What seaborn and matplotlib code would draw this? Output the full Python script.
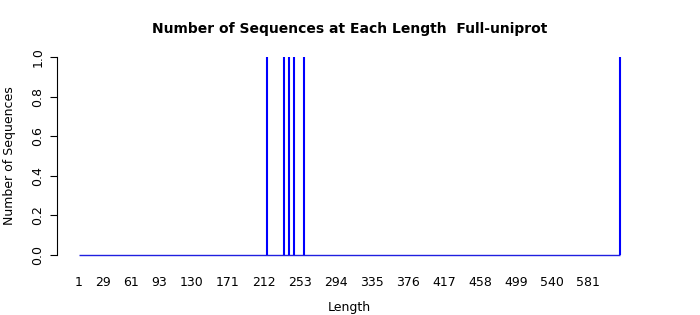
import matplotlib
matplotlib.use("Agg")
import matplotlib.pyplot as plt
import seaborn as sns
import numpy as np

# Data
spike_lengths = [216, 235, 241, 246, 258, 618]
spike_counts = [1, 1, 1, 1, 1, 1]
min_length = 1
max_length = 618
xtick_labels = [1, 29, 61, 93, 130, 171, 212, 253, 294, 335, 376, 417, 458, 499, 540, 581]
ytick_values = [0.0, 0.2, 0.4, 0.6, 0.8, 1.0]

sns.set_style("white")
plt.rcParams['font.family'] = ['DejaVu Sans']
plt.rcParams['text.color'] = 'black'
plt.rcParams['axes.labelcolor'] = 'black'
plt.rcParams['xtick.color'] = 'black'
plt.rcParams['ytick.color'] = 'black'

fig = plt.figure(figsize=(7, 3.15), dpi=100)
ax = fig.add_axes([57/700, 52/315, (642-57)/700, (266-52)/315])

ax.hlines(0, min_length, max_length, color="#2020e0", linewidth=1.0)
ax.vlines(spike_lengths, 0, spike_counts, color="#0000ff", linewidth=1.5)

rng = max_length - min_length
ax.set_xlim(min_length - 0.04 * rng, max_length + 0.04 * rng)
ax.set_ylim(-0.04, 1.04)

ax.set_xticks(xtick_labels)
ax.set_xticklabels([str(v) for v in xtick_labels])
ax.set_yticks(ytick_values)
ax.set_yticklabels([f"{v:.1f}" for v in ytick_values], rotation=90, va="center")

for s in ["top", "right", "bottom"]:
    ax.spines[s].set_visible(False)
ax.spines["left"].set_bounds(0, 1)
ax.spines["left"].set_color("black")
ax.spines["left"].set_linewidth(0.8)

ax.tick_params(axis="x", length=0, pad=9, labelsize=9)
ax.tick_params(axis="y", length=5, width=0.8, color="black", direction="out", left=True, pad=4, labelsize=9)

ax.set_xlabel("Length", fontsize=9, labelpad=9)
ax.set_ylabel("Number of Sequences", fontsize=9, labelpad=11)
fig.text(0.5, 1 - 29/315, "Number of Sequences at Each Length  Full-uniprot",
         ha="center", va="center", fontsize=10, fontweight="bold")

fig.savefig("out.png", dpi=100, facecolor="white")
